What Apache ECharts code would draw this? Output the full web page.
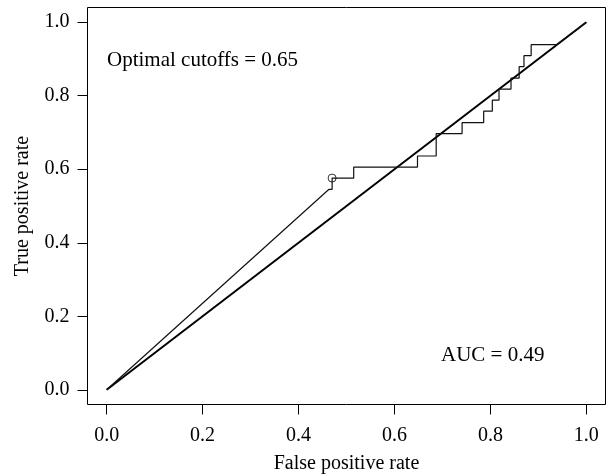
<!DOCTYPE html>
<html>
<head>
<meta charset="utf-8">
<script src="https://cdn.jsdelivr.net/npm/echarts@6/dist/echarts.min.js"></script>
<style>html,body{margin:0;padding:0;background:#fff}#c{width:610px;height:474px}</style>
</head>
<body>
<div id="c"></div>
<script>
const tickValues = [0, 0.2, 0.4, 0.6, 0.8, 1.0];
const rocFpr = [0, 0.463, 0.470, 0.470, 0.515, 0.515, 0.648, 0.648, 0.687, 0.687, 0.741, 0.741, 0.786, 0.786, 0.804, 0.804, 0.818, 0.818, 0.843, 0.843, 0.860, 0.860, 0.870, 0.870, 0.885, 0.885, 0.938, 1];
const rocTpr = [0, 0.545, 0.545, 0.576, 0.576, 0.606, 0.606, 0.636, 0.636, 0.697, 0.697, 0.727, 0.727, 0.758, 0.758, 0.788, 0.788, 0.818, 0.818, 0.848, 0.848, 0.879, 0.879, 0.909, 0.909, 0.939, 0.939, 1];
const diagFpr = [0, 1];
const diagTpr = [0, 1];
const cutoffFpr = [0.470];
const cutoffTpr = [0.576];
const cutoffText = 'Optimal cutoffs = 0.65';
const aucText = 'AUC = 0.49';

const FONT = '"Liberation Serif", "DejaVu Serif", serif';
const chart = echarts.init(document.getElementById('c'), null, {renderer: 'canvas'});
const zip = (a, b) => a.map((v, i) => [v, b[i]]);
const axisCommon = {
  type: 'value', min: -0.04, max: 1.04,
  axisLine: {show: false, onZero: false},
  splitLine: {show: false},
  axisTick: {show: true, customValues: tickValues, length: 10, inside: false, lineStyle: {color: '#000', width: 1}},
  axisLabel: {customValues: tickValues, color: '#000', fontFamily: FONT, fontSize: 20,
    formatter: v => v.toFixed(1)},
  nameLocation: 'middle',
  nameTextStyle: {color: '#000', fontFamily: FONT, fontSize: 20}
};
chart.setOption({
  animation: false,
  grid: {left: 87.5, top: 7.5, width: 518, height: 397, show: true, borderColor: '#000', borderWidth: 1,
    backgroundColor: 'transparent', containLabel: false, outerBoundsMode: 'none'},
  xAxis: Object.assign({}, axisCommon, {name: 'False positive rate', nameGap: 49,
    axisLabel: Object.assign({}, axisCommon.axisLabel, {margin: 21})}),
  yAxis: Object.assign({}, axisCommon, {name: 'True positive rate', nameGap: 55,
    axisLabel: Object.assign({}, axisCommon.axisLabel, {margin: 18})}),
  graphic: [
    {type: 'text', left: 107, top: 50, style: {text: cutoffText, fill: '#000', font: '21px ' + FONT}},
    {type: 'text', left: 441, top: 345, style: {text: aucText, fill: '#000', font: '21px ' + FONT}}
  ],
  series: [
    {type: 'line', data: zip(diagFpr, diagTpr), showSymbol: false, lineStyle: {color: '#000', width: 2}, z: 3},
    {type: 'line', data: zip(rocFpr, rocTpr), showSymbol: false, lineStyle: {color: '#111', width: 1.2}, z: 4},
    {type: 'scatter', data: zip(cutoffFpr, cutoffTpr), symbol: 'circle', symbolSize: 8,
      itemStyle: {color: 'rgba(0,0,0,0)', borderColor: '#000', borderWidth: 1}, z: 5}
  ]
});
</script>
</body>
</html>
